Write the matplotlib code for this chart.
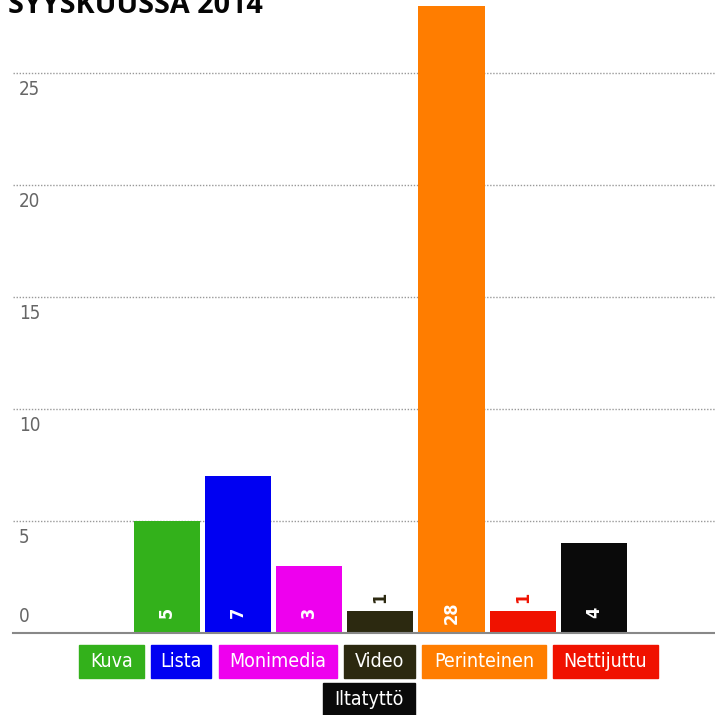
import matplotlib.pyplot as plt
from matplotlib.patches import Rectangle

categories = ['Kuva', 'Lista', 'Monimedia', 'Video', 'Perinteinen', 'Nettijuttu', 'Iltatyttö']
values = [5, 7, 3, 1, 28, 1, 4]
colors = ['#33b11b', '#0000f2', '#ee00ee', '#2c2910', '#ff7d00', '#f01200', '#0a0a0a']
yticks = [0, 5, 10, 15, 20, 25]
title = 'SYYSKUUSSA 2014'

narrow = dict(family='DejaVu Sans', fontstretch='condensed')

W = H = 715
fig = plt.figure(figsize=(W / 100, H / 100), dpi=100)


def px(x0, y0, x1, y1):
    # pixel box (top-left origin) -> figure fraction rect
    return [x0 / W, 1 - y1 / H, (x1 - x0) / W, (y1 - y0) / H]


ax = fig.add_axes(px(13, 6, 715, 633))
ax.set_xlim(-2.16, 7.70)
ax.set_ylim(0, 28)
for s in ax.spines.values():
    s.set_visible(False)
ax.set_xticks([])
ax.set_yticks([])

for t in yticks[1:]:
    ax.axhline(t, color='#999999', linestyle=(0, (1, 1.2)), linewidth=1, zorder=0)
ax.axhline(0, color='#888888', linewidth=1.5, zorder=3, clip_on=False)

for t in yticks:
    dy = 0.72 if t == 0 else -0.72
    ax.text(-2.08, t + dy, str(t), ha='left', va='center', fontsize=13.5,
            color='#666666', **narrow)

xs = list(range(len(values)))
ax.bar(xs, values, width=0.93, color=colors, zorder=2)

for x, v, c in zip(xs, values, colors):
    if v > 1:
        ax.text(x, 0.9, str(v), rotation=90, ha='center', va='center', color='white',
                fontsize=13, fontweight='bold', zorder=4, **narrow)
    else:
        ax.text(x, v + 0.6, str(v), rotation=90, ha='center', va='center', color=c,
                fontsize=13, fontweight='bold', zorder=4, **narrow)

# legend boxes along the bottom
boxes = [(79, 645, 144, 678), (151, 645, 211, 678), (219, 645, 337, 678),
         (344, 645, 415, 678), (422, 645, 546, 678), (553, 645, 658, 678),
         (323, 683, 415, 716)]
for (x0, y0, x1, y1), name, c in zip(boxes, categories, colors):
    fig.patches.append(Rectangle((x0 / W, 1 - y1 / H), (x1 - x0) / W, (y1 - y0) / H,
                                 transform=fig.transFigure, color=c, zorder=1))
    fig.text((x0 + x1) / 2 / W, 1 - (y0 + y1) / 2 / H, name, ha='center', va='center',
             color='white', fontsize=14, zorder=2, **narrow)

# heading runs off the top edge
head = fig.text(8 / W, 1 - 13 / H, title, ha='left', va='baseline', fontsize=20,
                fontweight='bold', color='#050505', family='Open Sans')
fig.canvas.draw()
w = head.get_window_extent().width
head.set_fontsize(20 * 255 / w)

fig.savefig('out.png', dpi=100)
